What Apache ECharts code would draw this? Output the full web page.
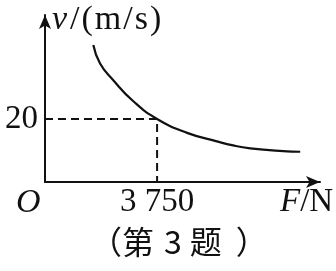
<!DOCTYPE html>
<html>
<head>
<meta charset="utf-8">
<script src="https://cdn.jsdelivr.net/npm/echarts@6/dist/echarts.min.js"></script>
<style>
html,body{margin:0;padding:0;background:#fff;}
#c{width:336px;height:271px;}
</style>
</head>
<body>
<div id="c"></div>
<script>
// Data
const forceN = [1617, 1842, 2277, 2946, 3750, 4754, 5749, 6294, 6864, 7968, 8538];
const speed = [43.5, 37.6, 32.4, 25.7, 20.0, 15.6, 12.9, 11.6, 10.7, 9.8, 9.6];
const markF = 3750;
const markV = 20;
const xTickLabels = ['3 750'];
const yTickLabels = ['20'];
const caption = ['（', '第', '3', '题', '）'];

const curve = forceN.map((f, i) => [f, speed[i]]);
const guide = [[0, markV], [markF, markV], [markF, 0]];

const serif = '"Liberation Serif", "DejaVu Serif", serif';
const cjk = '"Noto Sans CJK SC", sans-serif';
const ink = '#111';

const chart = echarts.init(document.getElementById('c'), null, {renderer: 'canvas'});
chart.setOption({
  backgroundColor: '#fff',
  animation: false,
  grid: {left: 45, right: 16, top: 15, bottom: 89},
  xAxis: {
    type: 'value', min: 0, max: 9200,
    splitLine: {show: false},
    axisLine: {lineStyle: {color: ink, width: 2}, symbol: ['none', 'arrow'], symbolSize: [9, 14]},
    axisTick: {show: false},
    axisLabel: {
      customValues: [markF],
      formatter: () => xTickLabels[0],
      fontFamily: serif, fontSize: 33, color: ink, margin: 4
    }
  },
  yAxis: {
    type: 'value', min: 0, max: 53,
    splitLine: {show: false},
    axisLine: {show: true, lineStyle: {color: ink, width: 2}, symbol: ['none', 'arrow'], symbolSize: [9, 14]},
    axisTick: {show: false},
    axisLabel: {
      customValues: [markV],
      formatter: () => yTickLabels[0],
      fontFamily: serif, fontSize: 33, color: ink, margin: 7
    }
  },
  series: [
    {
      type: 'line', data: curve, smooth: true, showSymbol: false,
      lineStyle: {color: ink, width: 2.2}
    },
    {
      type: 'line', data: guide, showSymbol: false,
      lineStyle: {color: ink, width: 2, type: [8, 5]}
    }
  ],
  graphic: [
    {
      type: 'text', left: 52, top: 3,
      style: {
        text: '{i|v}{n|/}{n|(}{n|m}{n|/}{n|s}{n|)}',
        font: '34px ' + serif, fill: ink,
        rich: {
          i: {fontStyle: 'italic', fontFamily: serif, fontSize: 34, fill: ink, padding: [0, 2, 0, 0]},
          n: {fontFamily: serif, fontSize: 34, fill: ink, padding: [0, 1, 0, 1]}
        }
      }
    },
    {
      type: 'text', left: 16, top: 186,
      style: {text: 'O', font: 'italic 34px ' + serif, fill: ink}
    },
    {
      type: 'text', left: 280, top: 186,
      style: {
        text: '{i|F}/N',
        font: '33px ' + serif, fill: ink,
        rich: {i: {fontStyle: 'italic', fontFamily: serif, fontSize: 33, fill: ink}}
      }
    },
    {
      type: 'text', left: 90, top: 226,
      style: {
        text: '{p|' + caption[0] + '}{c|' + caption[1] + '}{d|' + caption[2] + '}{c|' + caption[3] + '}{q|' + caption[4] + '}',
        font: '32px ' + cjk, fill: ink,
        rich: {
          p: {fontFamily: cjk, fontSize: 32, fill: ink},
          c: {fontFamily: cjk, fontSize: 32, fill: ink},
          d: {fontFamily: cjk, fontSize: 32, fill: ink, padding: [0, 8, 0, 10]},
          q: {fontFamily: cjk, fontSize: 32, fill: ink, padding: [0, 0, 0, 14]}
        }
      }
    }
  ]
});
</script>
</body>
</html>
